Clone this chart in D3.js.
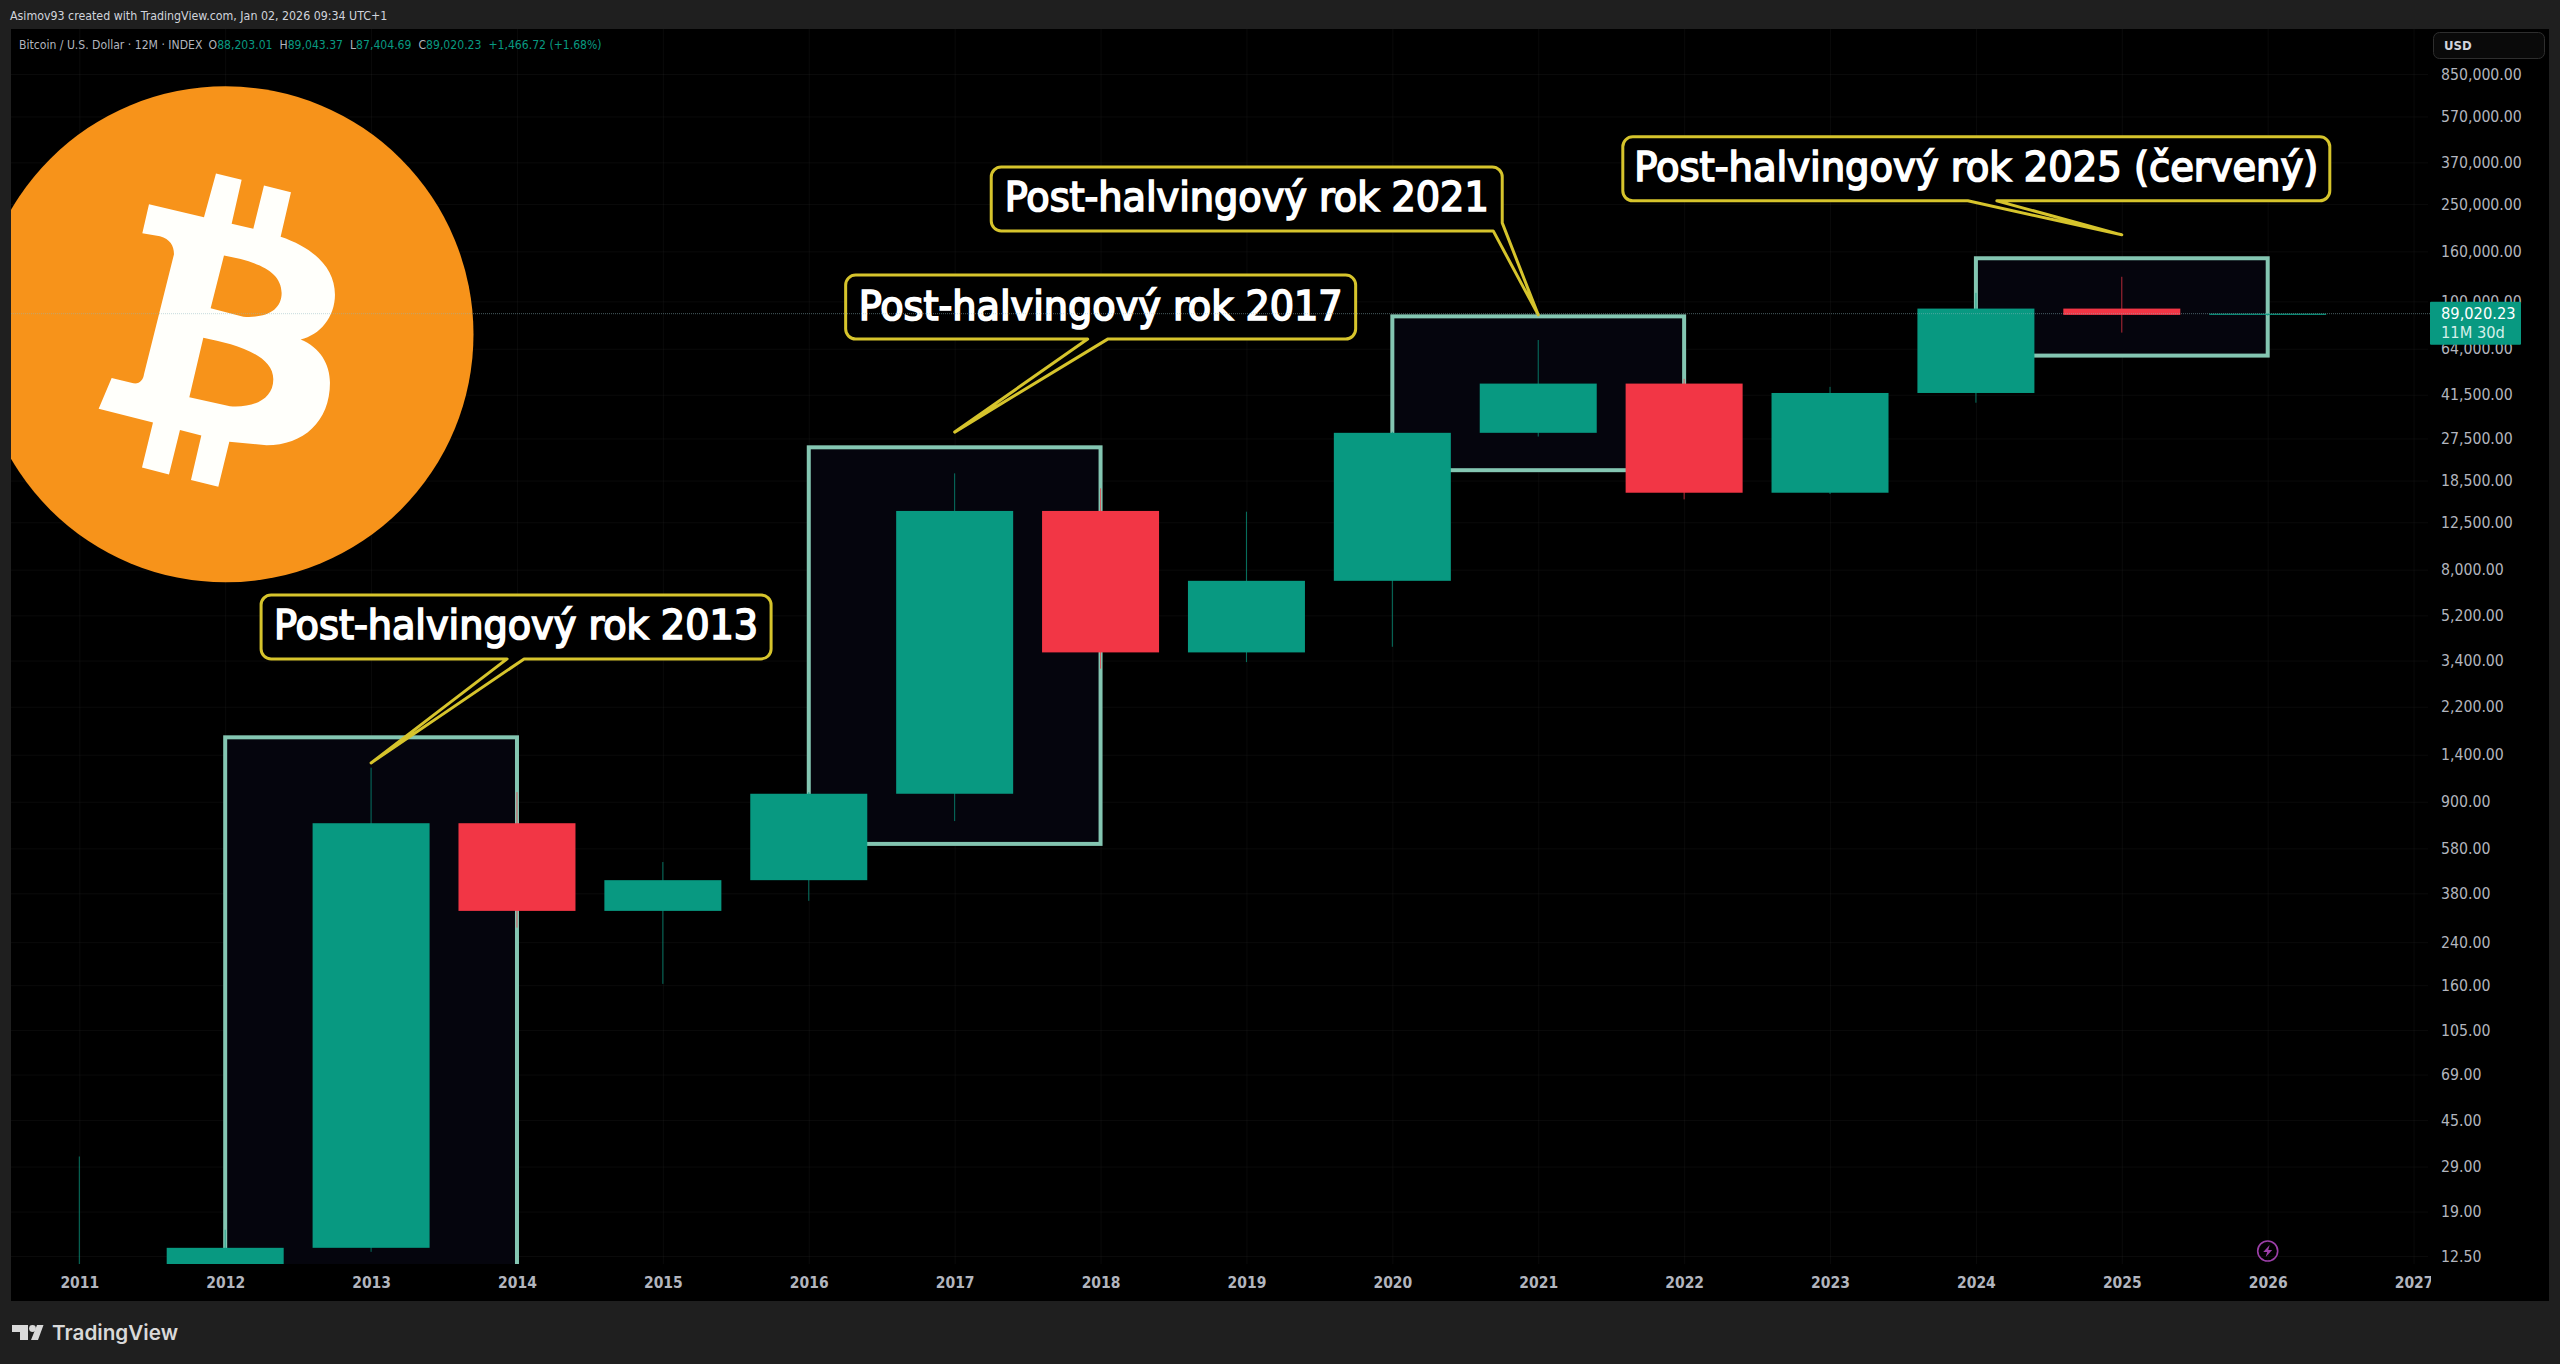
<!DOCTYPE html>
<html><head><meta charset="utf-8">
<script src="https://cdn.jsdelivr.net/npm/d3@7"></script>
<style>
html,body{margin:0;padding:0;background:#1f1f1f;overflow:hidden}
svg{display:block}
text{font-family:"DejaVu Sans Condensed","DejaVu Sans",sans-serif}
</style></head><body>
<script>
const years  = [2011,2012,2013,2014,2015,2016,2017,2018,2019,2020,2021,2022,2023,2024,2025,2026];
const opens  = [0.30,4.7,13.5,735,322,430,970,13900,3670,7200,29000,46100,16500,42200,93400,88203.01];
const highs  = [31.9,16,1240,985,510,985,19800,17200,13800,29300,69500,48200,44700,108300,126000,89043.37];
const lows   = [0.30,3.8,13,275,162,354,750,3150,3350,3870,28000,15500,16300,38500,74500,87404.69];
const closes = [4.7,13.5,735,322,430,970,13900,3670,7200,29000,46100,16500,42200,93400,88000,89020.23];

const priceTicks = [850000,570000,370000,250000,160000,100000,64000,41500,27500,18500,12500,8000,5200,3400,2200,1400,900,580,380,240,160,105,69,45,29,19,12.5];
const timeTicks  = [2011,2012,2013,2014,2015,2016,2017,2018,2019,2020,2021,2022,2023,2024,2025,2026,2027];

const zoneYear0 = [2012,2016,2020,2024];
const zoneYear1 = [2014,2018,2022,2026];
const zoneTop   = [1650,25300,86800,150000];
const zoneBot   = [4,605,20400,60000];

const calloutText = ["Post-halvingový rok 2013","Post-halvingový rok 2017","Post-halvingový rok 2021","Post-halvingový rok 2025 (červený)"];
const tipYear  = [2013,2017,2021,2025];
const tipPrice = [1297,29200,88000,187000];

const W=2560,H=1364;
const pane={l:11,t:29,r:2431,b:1264};
const x=d3.scaleLinear().domain([2011,2026]).range([79.3,2267.7]);
const y=d3.scaleLog().domain([12.5,850000]).range([1256,74]);
const bodyW=117;
const UP="#089981",DOWN="#f23645",TXT="#b2b5be";

const svg=d3.select("body").append("svg").attr("width",W).attr("height",H);
svg.append("rect").attr("width",W).attr("height",H).attr("fill","#1f1f1f");
svg.append("rect").attr("x",pane.l).attr("y",pane.t).attr("width",2549-pane.l).attr("height",1301-pane.t).attr("fill","#000");
const defs=svg.append("defs");
defs.append("clipPath").attr("id","pane").append("rect").attr("x",pane.l).attr("y",pane.t).attr("width",pane.r-pane.l).attr("height",pane.b-pane.t);
defs.append("clipPath").attr("id","paneWide").append("rect").attr("x",pane.l).attr("y",pane.t).attr("width",pane.r-pane.l).attr("height",1301-pane.t);

// grid
const grid=svg.append("g").attr("clip-path","url(#pane)");
grid.append("g").call(d3.axisBottom(x).tickValues(timeTicks).tickSize(pane.b-pane.t).tickFormat(""))
  .attr("transform",`translate(0,${pane.t})`)
  .call(g=>{g.select(".domain").remove();g.selectAll("line").attr("stroke","#fff").attr("stroke-opacity",.04)});
grid.append("g").call(d3.axisRight(y).tickValues(priceTicks).tickSize(pane.r-pane.l-3).tickFormat(""))
  .attr("transform",`translate(${pane.l},0)`)
  .call(g=>{g.select(".domain").remove();g.selectAll("line").attr("stroke","#fff").attr("stroke-opacity",.04)});

// logo
const logo=svg.append("g").attr("clip-path","url(#pane)");
logo.append("circle").attr("cx",225.5).attr("cy",334.3).attr("r",248).attr("fill","#f7931a");
logo.append("path").attr("transform","translate(0,70) scale(.3333,.338)").attr("fill","#fffffb").attr("fill-rule","evenodd")
 .attr("d","M447,397L612,436L648,306L725,325L695,455L760,470L792,342L873,362L842,493C940,525 1005,585 1005,665C1005,730 960,785 902,797C960,820 990,870 990,925C990,1040 910,1110 800,1110L688,1100L655,1233L573,1213L604,1081L540,1065L507,1197L426,1176L459,1043L296,1002L335,911L400,927C420,930 430,915 432,900L522,545C522,520 510,500 480,492L427,483Z M672,549C760,565 845,590 845,660C845,710 800,735 730,730L632,705Z M610,792C700,810 820,840 820,915C820,975 760,1000 690,995L568,968Z");

// zones
const chart=svg.append("g").attr("clip-path","url(#pane)");
chart.selectAll("rect.zone").data(zoneYear0).join("rect").attr("class","zone")
  .attr("x",d=>x(d)).attr("width",(d,i)=>x(zoneYear1[i])-x(d))
  .attr("y",(d,i)=>y(zoneTop[i])).attr("height",(d,i)=>y(zoneBot[i])-y(zoneTop[i]))
  .attr("fill","#05050d").attr("stroke","#84c6b2").attr("stroke-width",4);

// candles
const col=i=>closes[i]>=opens[i]?UP:DOWN;
chart.selectAll("line.wick").data(years).join("line").attr("class","wick")
  .attr("x1",d=>x(d)).attr("x2",d=>x(d))
  .attr("y1",(d,i)=>y(highs[i])).attr("y2",(d,i)=>y(lows[i]))
  .attr("stroke",(d,i)=>col(i)).attr("stroke-opacity",.75).attr("stroke-width",1);
chart.selectAll("rect.body").data(years).join("rect").attr("class","body")
  .attr("x",d=>x(d)-bodyW/2).attr("width",bodyW)
  .attr("y",(d,i)=>Math.min(y(opens[i]),y(closes[i])))
  .attr("height",(d,i)=>Math.max(1.2,Math.abs(y(opens[i])-y(closes[i]))))
  .attr("fill",(d,i)=>col(i));

// callouts: box and tail offsets are measured from the tip
const calloutLayout=[
 {l:-110,r:400,t:-168,b:-104,b0:136,b1:153,tw:484},
 {l:-109,r:401,t:-157,b:-93,b0:133,b1:153,tw:484},
 {l:-547,r:-36,t:-148,b:-84,b0:-45,b1:-36,side:8,tw:484},
 {l:-499,r:208,t:-98,b:-34,b0:-154,b1:-125,tw:684}
];
const cg=svg.append("g");
calloutText.forEach((t,i)=>{
  const tx=x(tipYear[i]),ty=y(tipPrice[i]),c=calloutLayout[i],R=10;
  const L=tx+c.l,Rt=tx+c.r,T=ty+c.t,B=ty+c.b;
  const p=d3.path();
  p.moveTo(L+R,T);p.lineTo(Rt-R,T);p.arcTo(Rt,T,Rt,T+R,R);
  if(c.side){
    p.lineTo(Rt,B-c.side);p.lineTo(tx,ty);p.lineTo(tx+c.b0,B);
  }else{
    p.lineTo(Rt,B-R);p.arcTo(Rt,B,Rt-R,B,R);
    p.lineTo(tx+c.b1,B);p.lineTo(tx,ty);p.lineTo(tx+c.b0,B);
  }
  p.lineTo(L+R,B);p.arcTo(L,B,L,B-R,R);p.lineTo(L,T+R);p.arcTo(L,T,L+R,T,R);p.closePath();
  cg.append("path").attr("d",p.toString()).attr("fill","#000").attr("stroke","#d6c42c").attr("stroke-width",3).attr("stroke-linejoin","round");
  cg.append("text").attr("x",(L+Rt)/2).attr("y",(T+B)/2+12.5).attr("text-anchor","middle")
    .attr("fill","#fff").attr("stroke","#fff").attr("stroke-width",1.6).attr("font-size",40)
    .attr("textLength",c.tw).attr("lengthAdjust","spacingAndGlyphs").text(t);
});

// lightning mark
const mark=svg.append("g").attr("transform",`translate(${x(2026)},1251)`);
mark.append("circle").attr("r",10).attr("fill","none").attr("stroke","#9c3fa8").attr("stroke-width",1.6);
mark.append("path").attr("d","M2,-6L-4.5,1H-.5L-2,6L4.5,-1H.5Z").attr("fill","#9c3fa8");

// time axis
svg.append("g").attr("clip-path","url(#paneWide)").append("g").attr("transform","translate(0,1264)")
 .call(d3.axisBottom(x).tickValues(timeTicks).tickSize(0).tickPadding(0).tickFormat(d3.format("d")))
 .call(g=>{g.select(".domain").remove();g.selectAll("text").attr("y",24).attr("dy",0).attr("fill",TXT).attr("font-size",15.5).attr("font-weight",700).attr("font-family",'"DejaVu Sans Condensed"')});

// price axis
const fmtP=d3.format(",.2f");
svg.append("g").attr("transform","translate(2441,0)")
 .call(d3.axisRight(y).tickValues(priceTicks).tickSize(0).tickPadding(0).tickFormat(fmtP))
 .call(g=>{g.select(".domain").remove();g.selectAll("text").attr("x",0).attr("dy",".33em").attr("fill",TXT).attr("font-size",15.7).attr("font-family",'"DejaVu Sans Condensed"')});

// dotted last-price line
svg.append("line").attr("x1",pane.l).attr("x2",pane.r).attr("y1",y(closes[15])).attr("y2",y(closes[15]))
  .attr("stroke","#8fb8c0").attr("stroke-opacity",.5).attr("stroke-dasharray","1 1");

// price badge
svg.append("rect").attr("x",2430).attr("y",y(closes[15])-12).attr("width",91).attr("height",43).attr("fill",UP).attr("rx",1);
svg.append("text").attr("x",2441).attr("y",y(closes[15])+5).attr("fill","#fff").attr("font-size",16.3).text(fmtP(closes[15]));
svg.append("text").attr("x",2441).attr("y",y(closes[15])+24).attr("fill","#d5efe9").attr("font-size",16.3).text("11M 30d");

// USD
svg.append("rect").attr("x",2433.5).attr("y",32.5).attr("width",111).attr("height",26).attr("rx",6).attr("fill","#0a0a0a").attr("stroke","#2e2e2e");
svg.append("text").attr("x",2444).attr("y",50).attr("fill","#d1d4dc").attr("font-size",13).attr("font-weight",700).text("USD");

// header
svg.append("text").attr("x",10).attr("y",20).attr("fill","#d1d4dc").attr("font-size",12.3).text("Asimov93 created with TradingView.com, Jan 02, 2026 09:34 UTC+1");
const lg=svg.append("text").attr("x",19).attr("y",49).attr("font-size",12.1).attr("fill",TXT);
lg.append("tspan").text("Bitcoin / U.S. Dollar · 12M · INDEX");
const ohlcLabels=["O","H","L","C"],ohlcVals=[opens[15],highs[15],lows[15],closes[15]];
ohlcLabels.forEach((l,i)=>{
  lg.append("tspan").attr("dx",7).text(l);
  lg.append("tspan").attr("fill",UP).text(fmtP(ohlcVals[i]));
});
lg.append("tspan").attr("dx",7).attr("fill",UP).text("+1,466.72 (+1.68%)");

// brand
const b=svg.append("g");
b.append("path").attr("fill","#d9d9d9").attr("d","M12,1325H28V1340H20V1332H12Z M43.5,1325H37L31,1340H38Z");
b.append("circle").attr("cx",32.5).attr("cy",1328.5).attr("r",3.4).attr("fill","#d9d9d9");
b.append("text").attr("x",52).attr("y",1340).attr("fill","#d9d9d9").attr("font-size",20.7).attr("font-weight",600).attr("style","font-family:Inter").text("TradingView");
</script>
</body></html>
